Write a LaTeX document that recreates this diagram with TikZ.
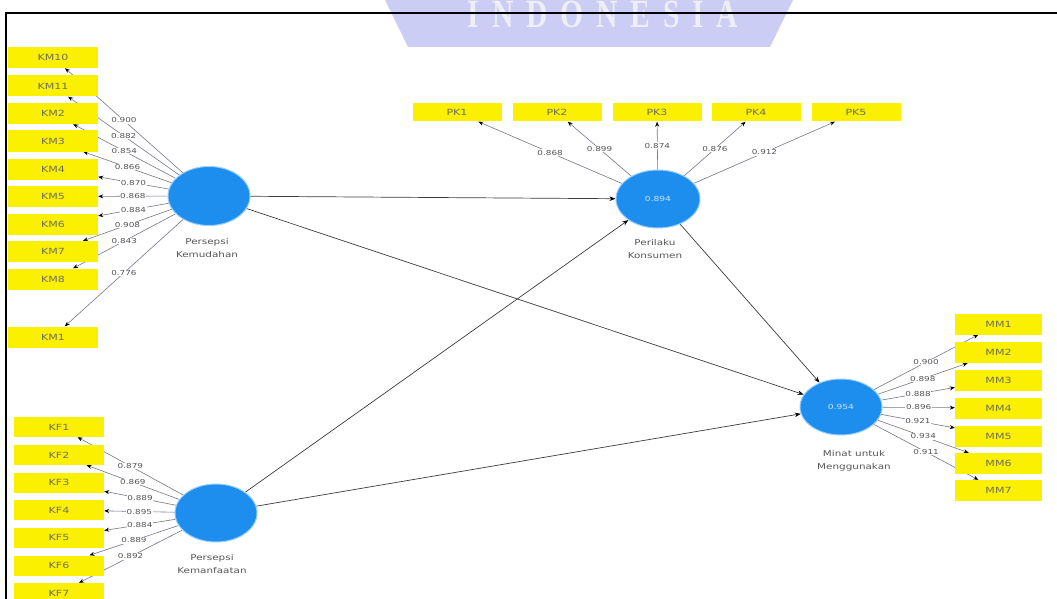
\documentclass[tikz,border=0pt]{standalone}
\usepackage{fontspec}
\usetikzlibrary{shapes.geometric,arrows.meta,backgrounds}
\newfontfamily\plsfont[FakeStretch=1.3]{DejaVu Sans}
\newfontfamily\wmfont[FakeStretch=0.74,LetterSpace=32]{Liberation Serif Bold}
\definecolor{indyellow}{RGB}{250,240,0}
\definecolor{indtext}{RGB}{110,110,95}
\definecolor{lvblue}{RGB}{30,142,238}
\definecolor{lvhalo}{RGB}{150,205,250}
\definecolor{lvtext}{RGB}{205,228,252}
\definecolor{nametext}{RGB}{85,85,85}
\definecolor{loadgray}{RGB}{115,120,135}
\definecolor{valtext}{RGB}{85,85,85}
\definecolor{pathgray}{RGB}{60,60,60}
\definecolor{wmfill}{RGB}{204,205,244}
\definecolor{wmtext}{RGB}{238,238,246}
\tikzset{
  indbox/.style={rectangle, fill=indyellow, minimum width=89pt, minimum height=20pt,
    inner sep=0pt, text=indtext, font=\plsfont\fontsize{8.5}{10}\selectfont},
  latent/.style={ellipse, fill=lvblue, draw=lvhalo, line width=1pt, inner sep=0pt,
    minimum width=82pt, minimum height=59pt, text=lvtext,
    font=\plsfont\fontsize{7}{8}\selectfont},
  lvname/.style={align=center, text=nametext, font=\plsfont\fontsize{8}{13}\selectfont},
  loadline/.style={draw=loadgray, line width=0.6pt,
    -{Stealth[length=5pt,width=4pt,color=black]}},
  loadval/.style={fill=white, inner sep=0.6pt, text=valtext,
    font=\plsfont\fontsize{6.8}{7}\selectfont},
  structarrow/.style={draw=pathgray, line width=0.7pt,
    -{Stealth[length=6pt,width=4.5pt,color=black]}}
}
\begin{document}
\begin{tikzpicture}[x=1pt,y=-1pt]
\useasboundingbox (0,0) rectangle (1057,599);

% latent variables
\node[latent] (pkem) at (209,196) {};
\node[latent, minimum height=58pt] (pkman) at (216,513) {};
\node[latent, minimum width=84pt, minimum height=58pt] (pk) at (658,199) {0.894};
\node[latent, minimum height=56pt] (mm) at (841,407) {0.954};

\node[lvname] (pkemname) at (207,248) {Persepsi\\Kemudahan};
\node[lvname] (pkmanname) at (212,564) {Persepsi\\Kemanfaatan};
\node[lvname] (pkname) at (655,249) {Perilaku\\Konsumen};
\node[lvname] (mmname) at (854,461) {Minat untuk\\Menggunakan};

% indicators
\foreach \n/\y/\t in {km10/57.5/KM10, km11/86/KM11, km2/113.5/KM2, km3/141/KM3,
    km4/169/KM4, km5/196.5/KM5, km6/224/KM6, km7/251.5/KM7, km8/279/KM8, km1/337/KM1}
  \node[indbox, minimum width=90pt, minimum height=21pt] (\n) at (53,\y) {\t};
\foreach \n/\x/\t in {pk1/457/PK1, pk2/557/PK2, pk3/657/PK3, pk4/756/PK4, pk5/856/PK5}
  \node[indbox, minimum height=18pt] (\n) at (\x,112.5) {\t};
\foreach \n/\y/\t in {mm1/324/MM1, mm2/352.5/MM2, mm3/380/MM3, mm4/408/MM4,
    mm5/436/MM5, mm6/463.5/MM6, mm7/490.5/MM7}
  \node[indbox, minimum width=87pt, minimum height=21pt] (\n) at (998.5,\y) {\t};
\foreach \n/\y/\t in {kf1/427/KF1, kf2/455/KF2, kf3/482.5/KF3, kf4/510/KF4,
    kf5/537.5/KF5, kf6/565.5/KF6, kf7/593/KF7}
  \node[indbox, minimum width=90pt] (\n) at (59,\y) {\t};

\begin{scope}[on background layer]
  % seal fragment at the top edge
  \fill[wmfill] (385,0) -- (793,0) -- (770,47) -- (408,47) -- cycle;
  \node[text=wmtext, font=\wmfont\fontsize{40}{40}\selectfont, anchor=base,
    inner sep=0pt] (wm) at (603,28) {INDONESIA};

  % outer loadings
  \foreach \n/\v in {km10/0.900, km11/0.882, km2/0.854, km3/0.866, km4/0.870,
      km5/0.868, km6/0.884, km7/0.908, km8/0.843, km1/0.776}
    \draw[loadline] (pkem) -- node[loadval] {\v} (\n);
  \foreach \n/\v in {pk1/0.868, pk2/0.899, pk3/0.874, pk4/0.876, pk5/0.912}
    \draw[loadline] (pk) -- node[loadval] {\v} (\n);
  \foreach \n/\v in {mm1/0.900, mm2/0.898, mm3/0.888, mm4/0.896, mm5/0.921,
      mm6/0.934, mm7/0.911}
    \draw[loadline] (mm) -- node[loadval] {\v} (\n);
  \foreach \n/\v in {kf1/0.879, kf2/0.869, kf3/0.889, kf4/0.895, kf5/0.884,
      kf6/0.889, kf7/0.892}
    \draw[loadline] (pkman) -- node[loadval] {\v} (\n);

  % inner model
  \draw[structarrow] (pkem) -- (pk);
  \draw[structarrow] (pkem) -- (mm);
  \draw[structarrow] (pkman) -- (pk);
  \draw[structarrow] (pkman) -- (mm);
  \draw[structarrow] (pk) -- (mm);
\end{scope}

% page frame
\draw[line width=2pt, line join=miter] (6,600) -- (6,13) -- (1058,13);
\end{tikzpicture}
\end{document}
